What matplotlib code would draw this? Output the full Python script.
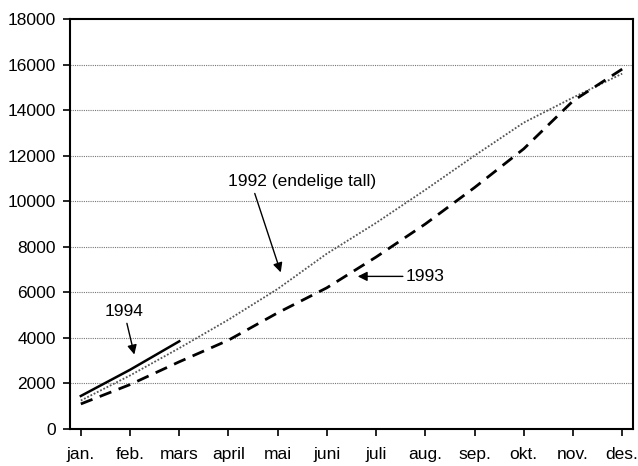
import matplotlib
matplotlib.use("Agg")
import matplotlib.pyplot as plt
from matplotlib import font_manager

months = ["jan.", "feb.", "mars", "april", "mai", "juni", "juli", "aug.", "sep.", "okt.", "nov.", "des."]
y1992 = [1250, 2350, 3550, 4800, 6150, 7700, 9050, 10500, 12000, 13450, 14550, 15600]
y1993 = [1100, 1950, 2950, 3900, 5100, 6200, 7550, 9000, 10600, 12300, 14400, 15800]
y1994 = [1450, 2600, 3850]
yticks = list(range(0, 18001, 2000))

names = {f.name for f in font_manager.fontManager.ttflist}
fam = ["Liberation Sans Narrow", "Liberation Sans", "DejaVu Sans"]
fam = [f for f in fam if f in names] or ["DejaVu Sans"]
plt.rcParams["font.family"] = fam

fig = plt.figure(figsize=(6.38, 4.66), dpi=100)
ax = fig.add_axes([70/638, 1 - 429/466, (633-70)/638, (429-19)/466])

x = list(range(len(months)))
ax.plot(x, y1992, color="#555555", linestyle=(0, (1, 1)), linewidth=1.3)
ax.plot(x, y1993, color="black", linestyle=(0, (4.5, 2.8)), linewidth=2.0)
ax.plot(x[:len(y1994)], y1994, color="black", linestyle="-", linewidth=1.8)

ax.set_xlim(-0.22, 11.22)
ax.set_ylim(0, 18000)
ax.set_yticks(yticks)
ax.set_xticks(x)
ax.set_xticklabels(months)
ax.tick_params(axis="both", labelsize=12.5, direction="out", length=5, width=1.2, colors="black")
ax.tick_params(axis="x", pad=8)
ax.tick_params(axis="y", pad=5)
for t in yticks[1:-1]:
    ax.axhline(t, color="#777777", linestyle=(0, (1, 1)), linewidth=0.8, zorder=0)
for s in ax.spines.values():
    s.set_linewidth(1.5)
    s.set_color("black")

ap = dict(arrowstyle="-|>", color="black", lw=1.0, mutation_scale=14)
ax.annotate("1994", xy=(1.1, 3150), xytext=(0.88, 5150),
            fontsize=12.5, ha="center", va="center", arrowprops=dict(ap, shrinkA=1))
ax.annotate("1992 (endelige tall)", xy=(4.08, 6760), xytext=(4.5, 10850),
            fontsize=12.5, ha="center", va="center", arrowprops=dict(ap, relpos=(0.17, 0.0), shrinkA=1))
ax.annotate("1993", xy=(5.57, 6700), xytext=(6.6, 6700),
            fontsize=12.5, ha="left", va="center", arrowprops=dict(ap, relpos=(0.0, 0.5), shrinkA=0))

fig.savefig("out.png", dpi=100)
